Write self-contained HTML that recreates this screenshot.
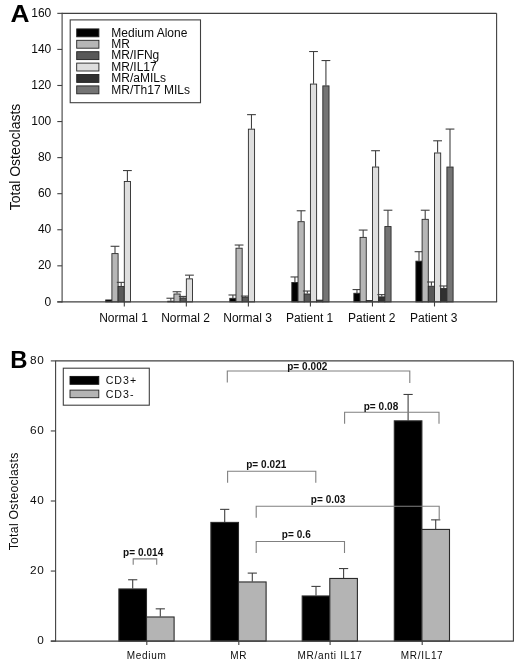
<!DOCTYPE html>
<html><head><meta charset="utf-8"><title>Figure</title>
<style>
html,body{margin:0;padding:0;background:#fff;}
body{width:520px;height:666px;overflow:hidden;font-family:"Liberation Sans",sans-serif;}
svg{display:block;font-family:"Liberation Sans",sans-serif;filter:grayscale(1) blur(0.3px);}
</style></head><body>
<svg width="520" height="666" viewBox="0 0 520 666">
<rect x="0" y="0" width="520" height="666" fill="#ffffff"/>
<line x1="62.10" y1="13.35" x2="496.60" y2="13.35" stroke="#404040" stroke-width="1.1"/>
<line x1="496.60" y1="13.35" x2="496.60" y2="301.90" stroke="#404040" stroke-width="1.1"/>
<line x1="57.30" y1="301.90" x2="62.10" y2="301.90" stroke="#404040" stroke-width="1.1"/>
<text x="51.30" y="305.50" font-size="12.0" text-anchor="end" font-weight="normal" letter-spacing="0" fill="#0c0c0c" >0</text>
<line x1="57.30" y1="265.83" x2="62.10" y2="265.83" stroke="#404040" stroke-width="1.1"/>
<text x="51.30" y="269.43" font-size="12.0" text-anchor="end" font-weight="normal" letter-spacing="0" fill="#0c0c0c" >20</text>
<line x1="57.30" y1="229.76" x2="62.10" y2="229.76" stroke="#404040" stroke-width="1.1"/>
<text x="51.30" y="233.36" font-size="12.0" text-anchor="end" font-weight="normal" letter-spacing="0" fill="#0c0c0c" >40</text>
<line x1="57.30" y1="193.69" x2="62.10" y2="193.69" stroke="#404040" stroke-width="1.1"/>
<text x="51.30" y="197.29" font-size="12.0" text-anchor="end" font-weight="normal" letter-spacing="0" fill="#0c0c0c" >60</text>
<line x1="57.30" y1="157.62" x2="62.10" y2="157.62" stroke="#404040" stroke-width="1.1"/>
<text x="51.30" y="161.22" font-size="12.0" text-anchor="end" font-weight="normal" letter-spacing="0" fill="#0c0c0c" >80</text>
<line x1="57.30" y1="121.56" x2="62.10" y2="121.56" stroke="#404040" stroke-width="1.1"/>
<text x="51.30" y="125.16" font-size="12.0" text-anchor="end" font-weight="normal" letter-spacing="0" fill="#0c0c0c" >100</text>
<line x1="57.30" y1="85.49" x2="62.10" y2="85.49" stroke="#404040" stroke-width="1.1"/>
<text x="51.30" y="89.09" font-size="12.0" text-anchor="end" font-weight="normal" letter-spacing="0" fill="#0c0c0c" >120</text>
<line x1="57.30" y1="49.42" x2="62.10" y2="49.42" stroke="#404040" stroke-width="1.1"/>
<text x="51.30" y="53.02" font-size="12.0" text-anchor="end" font-weight="normal" letter-spacing="0" fill="#0c0c0c" >140</text>
<line x1="57.30" y1="13.35" x2="62.10" y2="13.35" stroke="#404040" stroke-width="1.1"/>
<text x="51.30" y="16.95" font-size="12.0" text-anchor="end" font-weight="normal" letter-spacing="0" fill="#0c0c0c" >160</text>
<text x="0.00" y="0.00" font-size="14.0" text-anchor="middle" font-weight="normal" letter-spacing="0" fill="#0c0c0c" transform="translate(19.5,157) rotate(-90)">Total Osteoclasts</text>
<text x="0.00" y="0.00" font-size="24.6" text-anchor="start" font-weight="bold" letter-spacing="0" fill="#000" transform="translate(10.4,22.3) scale(1.07,1)">A</text>
<rect x="105.70" y="299.96" width="6.20" height="1.94" fill="#000000" stroke="#2a2a2a" stroke-width="0.9"/>
<line x1="115.00" y1="246.29" x2="115.00" y2="253.21" stroke="#404040" stroke-width="1.1"/>
<line x1="110.60" y1="246.29" x2="119.40" y2="246.29" stroke="#404040" stroke-width="1.1"/>
<rect x="111.90" y="253.61" width="6.20" height="48.29" fill="#b6b6b6" stroke="#2a2a2a" stroke-width="0.9"/>
<line x1="121.20" y1="282.36" x2="121.20" y2="286.03" stroke="#404040" stroke-width="1.1"/>
<line x1="116.80" y1="282.36" x2="125.60" y2="282.36" stroke="#404040" stroke-width="1.1"/>
<rect x="118.10" y="286.43" width="6.20" height="15.47" fill="#585858" stroke="#2a2a2a" stroke-width="0.9"/>
<line x1="127.40" y1="170.55" x2="127.40" y2="181.07" stroke="#404040" stroke-width="1.1"/>
<line x1="123.00" y1="170.55" x2="131.80" y2="170.55" stroke="#404040" stroke-width="1.1"/>
<rect x="124.30" y="181.47" width="6.20" height="120.43" fill="#dedede" stroke="#2a2a2a" stroke-width="0.9"/>
<line x1="124.30" y1="301.90" x2="124.30" y2="306.50" stroke="#404040" stroke-width="1.1"/>
<text x="123.50" y="321.90" font-size="12.0" text-anchor="middle" font-weight="normal" letter-spacing="0" fill="#0c0c0c" >Normal 1</text>
<line x1="170.84" y1="298.23" x2="170.84" y2="300.82" stroke="#404040" stroke-width="1.1"/>
<line x1="166.44" y1="298.23" x2="175.24" y2="298.23" stroke="#404040" stroke-width="1.1"/>
<rect x="167.74" y="301.22" width="6.20" height="0.68" fill="#000000" stroke="#2a2a2a" stroke-width="0.9"/>
<line x1="177.04" y1="291.74" x2="177.04" y2="293.60" stroke="#404040" stroke-width="1.1"/>
<line x1="172.64" y1="291.74" x2="181.44" y2="291.74" stroke="#404040" stroke-width="1.1"/>
<rect x="173.94" y="294.00" width="6.20" height="7.90" fill="#b6b6b6" stroke="#2a2a2a" stroke-width="0.9"/>
<line x1="183.24" y1="296.43" x2="183.24" y2="297.57" stroke="#404040" stroke-width="1.1"/>
<line x1="178.84" y1="296.43" x2="187.64" y2="296.43" stroke="#404040" stroke-width="1.1"/>
<rect x="180.14" y="297.97" width="6.20" height="3.93" fill="#585858" stroke="#2a2a2a" stroke-width="0.9"/>
<line x1="189.44" y1="275.15" x2="189.44" y2="278.46" stroke="#404040" stroke-width="1.1"/>
<line x1="185.04" y1="275.15" x2="193.84" y2="275.15" stroke="#404040" stroke-width="1.1"/>
<rect x="186.34" y="278.86" width="6.20" height="23.04" fill="#dedede" stroke="#2a2a2a" stroke-width="0.9"/>
<line x1="186.34" y1="301.90" x2="186.34" y2="306.50" stroke="#404040" stroke-width="1.1"/>
<text x="185.54" y="321.90" font-size="12.0" text-anchor="middle" font-weight="normal" letter-spacing="0" fill="#0c0c0c" >Normal 2</text>
<line x1="232.88" y1="294.99" x2="232.88" y2="297.93" stroke="#404040" stroke-width="1.1"/>
<line x1="228.48" y1="294.99" x2="237.28" y2="294.99" stroke="#404040" stroke-width="1.1"/>
<rect x="229.78" y="298.33" width="6.20" height="3.57" fill="#000000" stroke="#2a2a2a" stroke-width="0.9"/>
<line x1="239.08" y1="245.03" x2="239.08" y2="247.80" stroke="#404040" stroke-width="1.1"/>
<line x1="234.68" y1="245.03" x2="243.48" y2="245.03" stroke="#404040" stroke-width="1.1"/>
<rect x="235.98" y="248.20" width="6.20" height="53.70" fill="#b6b6b6" stroke="#2a2a2a" stroke-width="0.9"/>
<line x1="245.28" y1="296.07" x2="245.28" y2="296.85" stroke="#404040" stroke-width="1.1"/>
<line x1="240.88" y1="296.07" x2="249.68" y2="296.07" stroke="#404040" stroke-width="1.1"/>
<rect x="242.18" y="297.25" width="6.20" height="4.65" fill="#585858" stroke="#2a2a2a" stroke-width="0.9"/>
<line x1="251.48" y1="114.64" x2="251.48" y2="128.77" stroke="#404040" stroke-width="1.1"/>
<line x1="247.08" y1="114.64" x2="255.88" y2="114.64" stroke="#404040" stroke-width="1.1"/>
<rect x="248.38" y="129.17" width="6.20" height="172.73" fill="#dedede" stroke="#2a2a2a" stroke-width="0.9"/>
<line x1="248.38" y1="301.90" x2="248.38" y2="306.50" stroke="#404040" stroke-width="1.1"/>
<text x="247.58" y="321.90" font-size="12.0" text-anchor="middle" font-weight="normal" letter-spacing="0" fill="#0c0c0c" >Normal 3</text>
<line x1="294.92" y1="276.95" x2="294.92" y2="282.06" stroke="#404040" stroke-width="1.1"/>
<line x1="290.52" y1="276.95" x2="299.32" y2="276.95" stroke="#404040" stroke-width="1.1"/>
<rect x="291.82" y="282.46" width="6.20" height="19.44" fill="#000000" stroke="#2a2a2a" stroke-width="0.9"/>
<line x1="301.12" y1="210.77" x2="301.12" y2="221.29" stroke="#404040" stroke-width="1.1"/>
<line x1="296.72" y1="210.77" x2="305.52" y2="210.77" stroke="#404040" stroke-width="1.1"/>
<rect x="298.02" y="221.69" width="6.20" height="80.21" fill="#b6b6b6" stroke="#2a2a2a" stroke-width="0.9"/>
<line x1="307.32" y1="291.02" x2="307.32" y2="293.60" stroke="#404040" stroke-width="1.1"/>
<line x1="302.92" y1="291.02" x2="311.72" y2="291.02" stroke="#404040" stroke-width="1.1"/>
<rect x="304.22" y="294.00" width="6.20" height="7.90" fill="#585858" stroke="#2a2a2a" stroke-width="0.9"/>
<line x1="313.52" y1="51.52" x2="313.52" y2="83.68" stroke="#404040" stroke-width="1.1"/>
<line x1="309.12" y1="51.52" x2="317.92" y2="51.52" stroke="#404040" stroke-width="1.1"/>
<rect x="310.42" y="84.08" width="6.20" height="217.82" fill="#dedede" stroke="#2a2a2a" stroke-width="0.9"/>
<rect x="316.62" y="300.14" width="6.20" height="1.76" fill="#303030" stroke="#2a2a2a" stroke-width="0.9"/>
<line x1="325.92" y1="60.54" x2="325.92" y2="85.49" stroke="#404040" stroke-width="1.1"/>
<line x1="321.52" y1="60.54" x2="330.32" y2="60.54" stroke="#404040" stroke-width="1.1"/>
<rect x="322.82" y="85.89" width="6.20" height="216.01" fill="#747474" stroke="#2a2a2a" stroke-width="0.9"/>
<line x1="310.42" y1="301.90" x2="310.42" y2="306.50" stroke="#404040" stroke-width="1.1"/>
<text x="309.62" y="321.90" font-size="12.0" text-anchor="middle" font-weight="normal" letter-spacing="0" fill="#0c0c0c" >Patient 1</text>
<line x1="356.96" y1="289.58" x2="356.96" y2="292.88" stroke="#404040" stroke-width="1.1"/>
<line x1="352.56" y1="289.58" x2="361.36" y2="289.58" stroke="#404040" stroke-width="1.1"/>
<rect x="353.86" y="293.28" width="6.20" height="8.62" fill="#000000" stroke="#2a2a2a" stroke-width="0.9"/>
<line x1="363.16" y1="230.06" x2="363.16" y2="236.98" stroke="#404040" stroke-width="1.1"/>
<line x1="358.76" y1="230.06" x2="367.56" y2="230.06" stroke="#404040" stroke-width="1.1"/>
<rect x="360.06" y="237.38" width="6.20" height="64.52" fill="#b6b6b6" stroke="#2a2a2a" stroke-width="0.9"/>
<rect x="366.26" y="300.50" width="6.20" height="1.40" fill="#585858" stroke="#2a2a2a" stroke-width="0.9"/>
<line x1="375.56" y1="150.71" x2="375.56" y2="166.64" stroke="#404040" stroke-width="1.1"/>
<line x1="371.16" y1="150.71" x2="379.96" y2="150.71" stroke="#404040" stroke-width="1.1"/>
<rect x="372.46" y="167.04" width="6.20" height="134.86" fill="#dedede" stroke="#2a2a2a" stroke-width="0.9"/>
<line x1="381.76" y1="294.63" x2="381.76" y2="296.49" stroke="#404040" stroke-width="1.1"/>
<line x1="377.36" y1="294.63" x2="386.16" y2="294.63" stroke="#404040" stroke-width="1.1"/>
<rect x="378.66" y="296.89" width="6.20" height="5.01" fill="#303030" stroke="#2a2a2a" stroke-width="0.9"/>
<line x1="387.96" y1="210.22" x2="387.96" y2="226.16" stroke="#404040" stroke-width="1.1"/>
<line x1="383.56" y1="210.22" x2="392.36" y2="210.22" stroke="#404040" stroke-width="1.1"/>
<rect x="384.86" y="226.56" width="6.20" height="75.34" fill="#747474" stroke="#2a2a2a" stroke-width="0.9"/>
<line x1="372.46" y1="301.90" x2="372.46" y2="306.50" stroke="#404040" stroke-width="1.1"/>
<text x="371.66" y="321.90" font-size="12.0" text-anchor="middle" font-weight="normal" letter-spacing="0" fill="#0c0c0c" >Patient 2</text>
<line x1="419.00" y1="251.70" x2="419.00" y2="260.78" stroke="#404040" stroke-width="1.1"/>
<line x1="414.60" y1="251.70" x2="423.40" y2="251.70" stroke="#404040" stroke-width="1.1"/>
<rect x="415.90" y="261.18" width="6.20" height="40.72" fill="#000000" stroke="#2a2a2a" stroke-width="0.9"/>
<line x1="425.20" y1="210.22" x2="425.20" y2="218.94" stroke="#404040" stroke-width="1.1"/>
<line x1="420.80" y1="210.22" x2="429.60" y2="210.22" stroke="#404040" stroke-width="1.1"/>
<rect x="422.10" y="219.34" width="6.20" height="82.56" fill="#b6b6b6" stroke="#2a2a2a" stroke-width="0.9"/>
<line x1="431.40" y1="282.00" x2="431.40" y2="285.85" stroke="#404040" stroke-width="1.1"/>
<line x1="427.00" y1="282.00" x2="435.80" y2="282.00" stroke="#404040" stroke-width="1.1"/>
<rect x="428.30" y="286.25" width="6.20" height="15.65" fill="#585858" stroke="#2a2a2a" stroke-width="0.9"/>
<line x1="437.60" y1="140.79" x2="437.60" y2="152.58" stroke="#404040" stroke-width="1.1"/>
<line x1="433.20" y1="140.79" x2="442.00" y2="140.79" stroke="#404040" stroke-width="1.1"/>
<rect x="434.50" y="152.98" width="6.20" height="148.92" fill="#dedede" stroke="#2a2a2a" stroke-width="0.9"/>
<line x1="443.80" y1="285.97" x2="443.80" y2="288.19" stroke="#404040" stroke-width="1.1"/>
<line x1="439.40" y1="285.97" x2="448.20" y2="285.97" stroke="#404040" stroke-width="1.1"/>
<rect x="440.70" y="288.59" width="6.20" height="13.31" fill="#303030" stroke="#2a2a2a" stroke-width="0.9"/>
<line x1="450.00" y1="129.07" x2="450.00" y2="166.64" stroke="#404040" stroke-width="1.1"/>
<line x1="445.60" y1="129.07" x2="454.40" y2="129.07" stroke="#404040" stroke-width="1.1"/>
<rect x="446.90" y="167.04" width="6.20" height="134.86" fill="#747474" stroke="#2a2a2a" stroke-width="0.9"/>
<line x1="434.50" y1="301.90" x2="434.50" y2="306.50" stroke="#404040" stroke-width="1.1"/>
<text x="433.70" y="321.90" font-size="12.0" text-anchor="middle" font-weight="normal" letter-spacing="0" fill="#0c0c0c" >Patient 3</text>
<line x1="62.10" y1="12.85" x2="62.10" y2="302.40" stroke="#404040" stroke-width="1.1"/>
<line x1="57.30" y1="301.90" x2="497.10" y2="301.90" stroke="#404040" stroke-width="1.1"/>
<rect x="70.20" y="19.90" width="130.30" height="82.80" fill="#ffffff" stroke="#404040" stroke-width="1.1"/>
<rect x="76.70" y="28.90" width="22.20" height="7.90" fill="#000000" stroke="#222" stroke-width="0.9"/>
<text x="111.30" y="36.50" font-size="12.0" text-anchor="start" font-weight="normal" letter-spacing="0" fill="#0c0c0c" >Medium Alone</text>
<rect x="76.70" y="40.30" width="22.20" height="7.90" fill="#b6b6b6" stroke="#222" stroke-width="0.9"/>
<text x="111.30" y="47.90" font-size="12.0" text-anchor="start" font-weight="normal" letter-spacing="0" fill="#0c0c0c" >MR</text>
<rect x="76.70" y="51.70" width="22.20" height="7.90" fill="#585858" stroke="#222" stroke-width="0.9"/>
<text x="111.30" y="59.30" font-size="12.0" text-anchor="start" font-weight="normal" letter-spacing="0" fill="#0c0c0c" >MR/IFNg</text>
<rect x="76.70" y="63.10" width="22.20" height="7.90" fill="#dedede" stroke="#222" stroke-width="0.9"/>
<text x="111.30" y="70.70" font-size="12.0" text-anchor="start" font-weight="normal" letter-spacing="0" fill="#0c0c0c" >MR/IL17</text>
<rect x="76.70" y="74.50" width="22.20" height="7.90" fill="#303030" stroke="#222" stroke-width="0.9"/>
<text x="111.30" y="82.10" font-size="12.0" text-anchor="start" font-weight="normal" letter-spacing="0" fill="#0c0c0c" >MR/aMILs</text>
<rect x="76.70" y="85.90" width="22.20" height="7.90" fill="#747474" stroke="#222" stroke-width="0.9"/>
<text x="111.30" y="93.50" font-size="12.0" text-anchor="start" font-weight="normal" letter-spacing="0" fill="#0c0c0c" >MR/Th17 MILs</text>
<line x1="55.60" y1="360.90" x2="513.40" y2="360.90" stroke="#404040" stroke-width="1.1"/>
<line x1="513.40" y1="360.90" x2="513.40" y2="641.10" stroke="#404040" stroke-width="1.1"/>
<line x1="50.80" y1="641.10" x2="55.60" y2="641.10" stroke="#404040" stroke-width="1.1"/>
<text x="44.30" y="644.30" font-size="11.8" text-anchor="end" font-weight="normal" letter-spacing="0.6" fill="#0c0c0c" >0</text>
<line x1="50.80" y1="571.05" x2="55.60" y2="571.05" stroke="#404040" stroke-width="1.1"/>
<text x="44.30" y="574.25" font-size="11.8" text-anchor="end" font-weight="normal" letter-spacing="0.6" fill="#0c0c0c" >20</text>
<line x1="50.80" y1="501.00" x2="55.60" y2="501.00" stroke="#404040" stroke-width="1.1"/>
<text x="44.30" y="504.20" font-size="11.8" text-anchor="end" font-weight="normal" letter-spacing="0.6" fill="#0c0c0c" >40</text>
<line x1="50.80" y1="430.95" x2="55.60" y2="430.95" stroke="#404040" stroke-width="1.1"/>
<text x="44.30" y="434.15" font-size="11.8" text-anchor="end" font-weight="normal" letter-spacing="0.6" fill="#0c0c0c" >60</text>
<line x1="50.80" y1="360.90" x2="55.60" y2="360.90" stroke="#404040" stroke-width="1.1"/>
<text x="44.30" y="364.10" font-size="11.8" text-anchor="end" font-weight="normal" letter-spacing="0.6" fill="#0c0c0c" >80</text>
<text x="0.00" y="0.00" font-size="12.2" text-anchor="middle" font-weight="normal" letter-spacing="0.3" fill="#0c0c0c" transform="translate(18.4,501.4) rotate(-90)">Total Osteoclasts</text>
<text x="0.00" y="0.00" font-size="24.4" text-anchor="start" font-weight="bold" letter-spacing="0" fill="#000" transform="translate(10.2,368.1) scale(0.98,1)">B</text>
<line x1="132.70" y1="579.76" x2="132.70" y2="588.56" stroke="#404040" stroke-width="1.1"/>
<line x1="128.10" y1="579.76" x2="137.30" y2="579.76" stroke="#404040" stroke-width="1.1"/>
<rect x="118.90" y="588.96" width="27.60" height="52.14" fill="#000000" stroke="#2a2a2a" stroke-width="1.1"/>
<line x1="160.30" y1="608.83" x2="160.30" y2="616.58" stroke="#404040" stroke-width="1.1"/>
<line x1="155.70" y1="608.83" x2="164.90" y2="608.83" stroke="#404040" stroke-width="1.1"/>
<rect x="146.50" y="616.98" width="27.60" height="24.12" fill="#b4b4b4" stroke="#2a2a2a" stroke-width="1.1"/>
<line x1="146.80" y1="641.10" x2="146.80" y2="645.10" stroke="#404040" stroke-width="1.1"/>
<text x="146.70" y="659.20" font-size="10.0" text-anchor="middle" font-weight="normal" letter-spacing="0.68" fill="#0c0c0c" >Medium</text>
<line x1="224.70" y1="509.36" x2="224.70" y2="522.01" stroke="#404040" stroke-width="1.1"/>
<line x1="220.10" y1="509.36" x2="229.30" y2="509.36" stroke="#404040" stroke-width="1.1"/>
<rect x="210.90" y="522.41" width="27.60" height="118.69" fill="#000000" stroke="#2a2a2a" stroke-width="1.1"/>
<line x1="252.30" y1="573.10" x2="252.30" y2="581.56" stroke="#404040" stroke-width="1.1"/>
<line x1="247.70" y1="573.10" x2="256.90" y2="573.10" stroke="#404040" stroke-width="1.1"/>
<rect x="238.50" y="581.96" width="27.60" height="59.14" fill="#b4b4b4" stroke="#2a2a2a" stroke-width="1.1"/>
<line x1="238.80" y1="641.10" x2="238.80" y2="645.10" stroke="#404040" stroke-width="1.1"/>
<text x="238.70" y="659.20" font-size="10.0" text-anchor="middle" font-weight="normal" letter-spacing="0.68" fill="#0c0c0c" >MR</text>
<line x1="316.00" y1="586.41" x2="316.00" y2="595.57" stroke="#404040" stroke-width="1.1"/>
<line x1="311.40" y1="586.41" x2="320.60" y2="586.41" stroke="#404040" stroke-width="1.1"/>
<rect x="302.20" y="595.97" width="27.60" height="45.13" fill="#000000" stroke="#2a2a2a" stroke-width="1.1"/>
<line x1="343.60" y1="568.55" x2="343.60" y2="578.06" stroke="#404040" stroke-width="1.1"/>
<line x1="339.00" y1="568.55" x2="348.20" y2="568.55" stroke="#404040" stroke-width="1.1"/>
<rect x="329.80" y="578.46" width="27.60" height="62.64" fill="#b4b4b4" stroke="#2a2a2a" stroke-width="1.1"/>
<line x1="330.10" y1="641.10" x2="330.10" y2="645.10" stroke="#404040" stroke-width="1.1"/>
<text x="330.00" y="659.20" font-size="10.0" text-anchor="middle" font-weight="normal" letter-spacing="0.68" fill="#0c0c0c" >MR/anti IL17</text>
<line x1="408.10" y1="394.47" x2="408.10" y2="420.44" stroke="#404040" stroke-width="1.1"/>
<line x1="403.50" y1="394.47" x2="412.70" y2="394.47" stroke="#404040" stroke-width="1.1"/>
<rect x="394.30" y="420.84" width="27.60" height="220.26" fill="#000000" stroke="#2a2a2a" stroke-width="1.1"/>
<line x1="435.70" y1="519.86" x2="435.70" y2="529.02" stroke="#404040" stroke-width="1.1"/>
<line x1="431.10" y1="519.86" x2="440.30" y2="519.86" stroke="#404040" stroke-width="1.1"/>
<rect x="421.90" y="529.42" width="27.60" height="111.68" fill="#b4b4b4" stroke="#2a2a2a" stroke-width="1.1"/>
<line x1="422.20" y1="641.10" x2="422.20" y2="645.10" stroke="#404040" stroke-width="1.1"/>
<text x="422.10" y="659.20" font-size="10.0" text-anchor="middle" font-weight="normal" letter-spacing="0.68" fill="#0c0c0c" >MR/IL17</text>
<line x1="55.60" y1="360.40" x2="55.60" y2="641.60" stroke="#404040" stroke-width="1.1"/>
<line x1="50.80" y1="641.10" x2="513.90" y2="641.10" stroke="#404040" stroke-width="1.1"/>
<polyline points="133.20,564.70 133.20,558.90 156.70,558.90 156.70,564.70" fill="none" stroke="#808080" stroke-width="1.1"/>
<text x="123.00" y="556.00" font-size="10.0" text-anchor="start" font-weight="bold" letter-spacing="0.07" fill="#111" >p= 0.014</text>
<polyline points="227.60,482.70 227.60,471.20 315.80,471.20 315.80,482.70" fill="none" stroke="#808080" stroke-width="1.1"/>
<text x="246.20" y="467.80" font-size="10.0" text-anchor="start" font-weight="bold" letter-spacing="0.07" fill="#111" >p= 0.021</text>
<polyline points="256.20,553.00 256.20,541.50 344.50,541.50 344.50,553.00" fill="none" stroke="#808080" stroke-width="1.1"/>
<text x="281.80" y="538.40" font-size="10.0" text-anchor="start" font-weight="bold" letter-spacing="0.07" fill="#111" >p= 0.6</text>
<polyline points="256.20,517.80 256.20,506.30 439.20,506.30 439.20,519.20" fill="none" stroke="#808080" stroke-width="1.1"/>
<text x="310.80" y="503.30" font-size="10.0" text-anchor="start" font-weight="bold" letter-spacing="0.07" fill="#111" >p= 0.03</text>
<polyline points="227.30,382.50 227.30,371.00 409.80,371.00 409.80,383.00" fill="none" stroke="#808080" stroke-width="1.1"/>
<text x="287.20" y="369.80" font-size="10.0" text-anchor="start" font-weight="bold" letter-spacing="0.07" fill="#111" >p= 0.002</text>
<polyline points="344.60,423.80 344.60,412.30 439.00,412.30 439.00,423.80" fill="none" stroke="#808080" stroke-width="1.1"/>
<text x="363.70" y="410.40" font-size="10.0" text-anchor="start" font-weight="bold" letter-spacing="0.07" fill="#111" >p= 0.08</text>
<rect x="63.30" y="368.20" width="86.00" height="37.00" fill="#ffffff" stroke="#404040" stroke-width="1.1"/>
<rect x="70.00" y="376.40" width="28.80" height="7.90" fill="#000000" stroke="#111" stroke-width="0.9"/>
<rect x="70.00" y="390.10" width="28.80" height="7.60" fill="#b4b4b4" stroke="#222" stroke-width="0.9"/>
<text x="105.70" y="384.40" font-size="10.6" text-anchor="start" font-weight="normal" letter-spacing="1.0" fill="#0c0c0c" >CD3+</text>
<text x="105.70" y="398.00" font-size="10.6" text-anchor="start" font-weight="normal" letter-spacing="1.0" fill="#0c0c0c" >CD3-</text>
</svg>
</body></html>
